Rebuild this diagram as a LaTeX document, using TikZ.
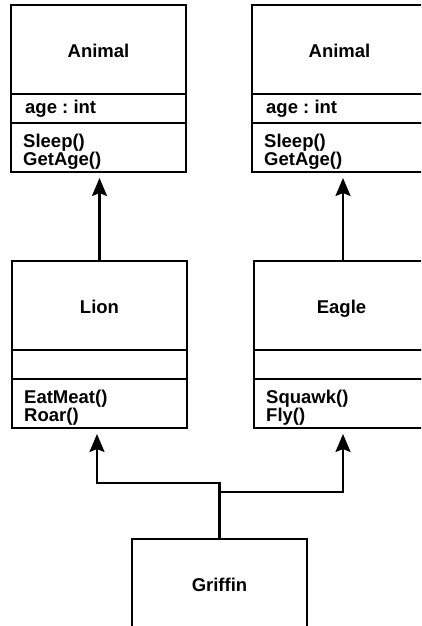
\documentclass[tikz,border=0pt]{standalone}
\usepackage{fontspec}
\setmainfont{Liberation Sans}
\usetikzlibrary{arrows.meta,calc}
\tikzset{
  comp/.style={draw, line width=2.4pt, minimum width=175pt, inner sep=0pt, outer sep=0pt, anchor=north west},
  txt/.style={inner sep=0pt, font=\fontsize{18.5}{18.5}\selectfont\bfseries\frenchspacing},
  inh/.style={line width=2.4pt, -{Stealth[length=18pt,width=15pt,inset=3pt]}, shorten >=6pt},
}
\newcommand\umlclass[7]{%
  \node[comp, minimum height=89pt] (#1) at (#2,#3) {};
  \node[comp, minimum height=29pt] (#1-a) at (#1.south west) {};
  \node[comp, minimum height=49pt] (#1-m) at (#1-a.south west) {};
  \node[txt, anchor=base] (#1-t) at ([yshift=-52pt]#1.north) {#4};
  \node[txt, anchor=base west] (#1-at) at ([xshift=14pt,yshift=-19pt]#1-a.north west) {#5};
  \node[txt, anchor=base west] (#1-m1) at ([xshift=12pt,yshift=-24pt]#1-m.north west) {#6};
  \node[txt, anchor=base west] (#1-m2) at ([xshift=12pt,yshift=-42pt]#1-m.north west) {#7};
}
\begin{document}
\begin{tikzpicture}[x=1pt,y=-1pt]
\useasboundingbox (0,0) rectangle (421,626);
\clip (0,0) rectangle (421,626);
\umlclass{A1}{11}{5}{Animal}{age : int}{Sleep()}{GetAge()}
\umlclass{A2}{252}{5}{Animal}{age : int}{Sleep()}{GetAge()}
\umlclass{L}{12}{261}{Lion}{}{EatMeat()}{Roar()}
\umlclass{E}{254}{261}{Eagle}{}{Squawk()}{Fly()}
\node[comp, minimum height=89pt] (G) at (132,539) {};
\node[txt, anchor=base] (G-t) at ([yshift=-52pt]G.north) {Griffin};
\draw[inh] (L.north) -- (L.north |- A1-m.south);
\draw[inh] ([xshift=1.5pt]E.north) -- ([xshift=1.5pt]E.north |- A2-m.south);
\coordinate (jl) at (G.north |- 0,483);
\coordinate (jr) at (G.north |- 0,492);
\draw[inh] (G.north) -- (jl) -| ([xshift=-2.5pt]L-m.south);
\draw[inh] (jr) -| ([xshift=1.5pt]E-m.south);
\end{tikzpicture}
\end{document}
